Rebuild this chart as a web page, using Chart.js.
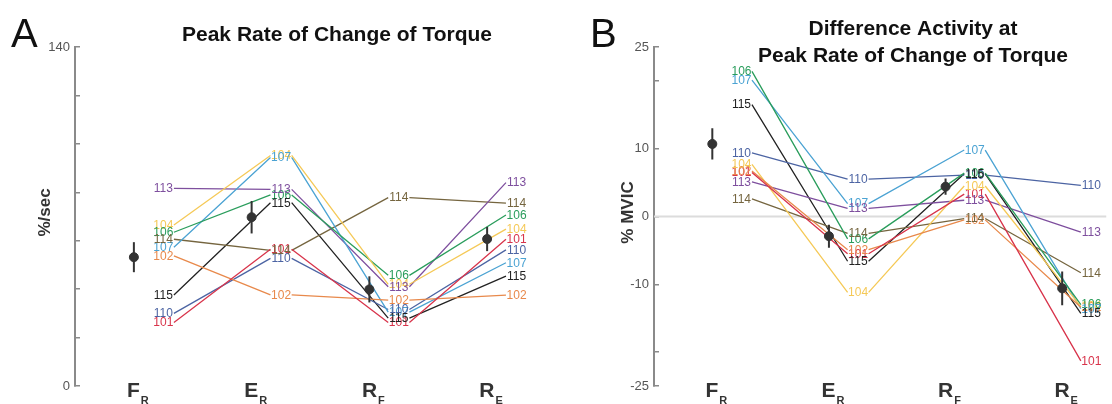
<!DOCTYPE html>
<html>
<head>
<meta charset="utf-8">
<script src="https://cdn.jsdelivr.net/npm/chart.js@4.4.0/dist/chart.umd.min.js"></script>
<style>
  html, body { margin: 0; padding: 0; background: #fff; }
  #wrap { position: relative; width: 1112px; height: 404px; overflow: hidden; }
  .panel { position: absolute; top: 0; width: 556px; height: 404px; }
</style>
</head>
<body>
<div id="wrap">
  <div class="panel" style="left:0"><canvas id="chartA" width="556" height="404"></canvas></div>
  <div class="panel" style="left:556px"><canvas id="chartB" width="556" height="404"></canvas></div>
</div>
<script>
// categories (main letter + subscript)
const categories = [['F', 'R'], ['E', 'R'], ['R', 'F'], ['R', 'E']];
const subjects = ['101', '102', '104', '106', '107', '110', '113', '114', '115'];
const subjectColors = ['#d8344b', '#e8894b', '#f5c957', '#2a9d5c', '#4ba3d3', '#4c64a3', '#7e4f9e', '#75653f', '#222222'];

// Panel A: peak rate of change of torque (%/sec), one value per subject
const rateFR = [26.2, 53.7, 66.5, 63.5, 57.3, 30.0, 81.6, 60.6, 37.6];
const rateER = [56.5, 37.6, 95.2, 78.9, 94.4, 52.7, 81.2, 56.0, 75.7];
const rateRF = [26.2, 35.5, 42.0, 45.7, 30.5, 31.6, 41.0, 77.8, 28.0];
const rateRE = [60.6, 37.5, 64.8, 70.6, 50.9, 56.2, 84.0, 75.5, 45.4];
const rateMean = [53.2, 69.7, 39.9, 60.7];
const rateErr = [6.2, 6.7, 5.4, 5.0];
const rateTicks = [0, 20, 40, 60, 80, 100, 120, 140];
const rateTickLabels = [0, 140];

// Panel B: difference activity (% MVIC)
const emgFR = [6.5, 6.7, 7.7, 21.4, 20.1, 9.4, 5.1, 2.6, 16.5];
const emgER = [-5.5, -4.9, -11.2, -3.3, 1.9, 5.5, 1.2, -2.5, -6.6];
const emgRF = [3.3, -0.5, 4.5, 6.4, 9.8, 6.1, 2.4, -0.3, 6.3];
const emgRE = [-21.3, -13.4, -13.3, -13.0, -13.6, 4.6, -2.3, -8.3, -14.3];
const emgMean = [10.7, -2.9, 4.4, -10.6];
const emgErr = [2.3, 1.7, 1.2, 2.5];
const emgTicks = [25, 20, 10, 0, -10, -20, -25];
const emgTickLabels = [25, 10, 0, -10, -25];

const LABEL_OFF = 0.25;  // subject labels sit right of the mean
const LABEL_HALF = 0.09; // lines stop at the label edges
const FONT = '"Liberation Sans", Arial, Helvetica, sans-serif';
const AXIS_GRAY = '#8a8a8a';

function buildDatasets(cols, mean, err, zeroLine, xMin, xMax) {
    const sets = [];
    // group means
    sets.push({
        data: mean.map((m, i) => ({ x: i + 1, y: m })),
        pointRadius: 4.5, pointBackgroundColor: '#333', pointBorderColor: '#333',
        showLine: false
    });
    // error bars
    mean.forEach((m, i) => {
        sets.push({
            data: [{ x: i + 1, y: m - err[i] }, { x: i + 1, y: m + err[i] }],
            borderColor: '#333', borderWidth: 2, pointRadius: 0, showLine: true
        });
    });
    // one line per subject, broken where the labels sit
    subjects.forEach((s, k) => {
        const pts = [];
        for (let i = 0; i < cols.length - 1; i++) {
            pts.push({ x: i + 1 + LABEL_OFF + LABEL_HALF, y: cols[i][k] });
            pts.push({ x: i + 2 + LABEL_OFF - LABEL_HALF, y: cols[i + 1][k] });
            pts.push({ x: i + 2, y: null });
        }
        sets.push({
            data: pts, borderColor: subjectColors[k], borderWidth: 1.3,
            pointRadius: 0, showLine: true, spanGaps: false
        });
    });
    if (zeroLine) {
        sets.push({
            data: [{ x: xMin, y: 0 }, { x: xMax, y: 0 }],
            borderColor: '#dcdcdc', borderWidth: 2, pointRadius: 0, showLine: true
        });
    }
    return sets;
}

function makeChart(id, o) {
    const textPlugin = {
        id: 'texts' + id,
        afterDatasetsDraw(chart) {
            const ctx = chart.ctx, xs = chart.scales.x, ys = chart.scales.y;
            ctx.save();
            ctx.font = '12px ' + FONT;
            ctx.textAlign = 'center';
            ctx.textBaseline = 'middle';
            subjects.forEach((s, k) => {
                ctx.fillStyle = subjectColors[k];
                o.cols.forEach((col, i) => {
                    ctx.fillText(s, xs.getPixelForValue(i + 1 + LABEL_OFF), ys.getPixelForValue(col[k]) + 0.5);
                });
            });
            ctx.restore();
        },
        afterDraw(chart) {
            const ctx = chart.ctx, xs = chart.scales.x, ys = chart.scales.y;
            const area = chart.chartArea;
            ctx.save();
            // panel letter
            ctx.fillStyle = '#111';
            ctx.textAlign = 'left';
            ctx.textBaseline = 'alphabetic';
            ctx.font = '40px ' + FONT;
            ctx.fillText(o.letter, o.letterX, 47);
            // title lines
            ctx.font = 'bold 21px ' + FONT;
            ctx.textAlign = 'center';
            o.title.forEach((t, i) => ctx.fillText(t, o.titleX, o.titleY + i * 27));
            // y axis title
            ctx.save();
            ctx.translate(o.yTitleX, (area.top + area.bottom) / 2 - 4);
            ctx.rotate(-Math.PI / 2);
            ctx.font = 'bold 17px ' + FONT;
            ctx.fillStyle = '#333';
            ctx.textBaseline = 'middle';
            ctx.fillText(o.yTitle, 0, 0);
            ctx.restore();
            // category labels with subscripts
            ctx.fillStyle = '#333';
            ctx.textAlign = 'left';
            categories.forEach((c, i) => {
                ctx.font = 'bold 21px ' + FONT;
                const w1 = ctx.measureText(c[0]).width;
                ctx.font = 'bold 11px ' + FONT;
                const w2 = ctx.measureText(c[1]).width;
                const x0 = xs.getPixelForValue(i + 1) + 4 - (w1 + 1 + w2) / 2;
                ctx.font = 'bold 21px ' + FONT;
                ctx.fillText(c[0], x0, 397);
                ctx.font = 'bold 11px ' + FONT;
                ctx.fillText(c[1], x0 + w1 + 1, 404);
            });
            ctx.restore();
        }
    };

    return new Chart(document.getElementById(id), {
        type: 'scatter',
        data: { datasets: buildDatasets(o.cols, o.mean, o.err, o.zeroLine, o.xMin, o.xMax) },
        options: {
            responsive: false,
            animation: false,
            devicePixelRatio: 1,
            layout: { padding: { top: 47, bottom: 18, left: 0, right: o.padRight } },
            plugins: { legend: { display: false }, tooltip: { enabled: false } },
            elements: { line: { tension: 0 } },
            scales: {
                x: { type: 'linear', display: false, min: o.xMin, max: o.xMax },
                y: {
                    min: o.yMin, max: o.yMax,
                    afterFit: s => { s.width = o.axisLeft; },
                    afterBuildTicks: s => { s.ticks = o.ticks.map(v => ({ value: v })); },
                    border: { display: true, color: AXIS_GRAY, width: 2 },
                    grid: { display: true, drawOnChartArea: false, drawTicks: true, tickLength: -5, color: AXIS_GRAY, tickColor: AXIS_GRAY, lineWidth: 1.5 },
                    ticks: {
                        color: '#555', font: { family: FONT, size: 13 }, padding: 10,
                        callback: v => (o.tickLabels.includes(v) ? String(v) : '')
                    }
                }
            }
        },
        plugins: [textPlugin]
    });
}

makeChart('chartA', {
    cols: [rateFR, rateER, rateRF, rateRE], mean: rateMean, err: rateErr,
    ticks: rateTicks, tickLabels: rateTickLabels, yMin: 0, yMax: 140,
    xMin: 0.5, xMax: 4.5, axisLeft: 75, padRight: 10, zeroLine: false,
    letter: 'A', letterX: 11, title: ['Peak Rate of Change of Torque'], titleX: 337, titleY: 41,
    yTitle: '%/sec', yTitleX: 45
});

makeChart('chartB', {
    cols: [emgFR, emgER, emgRF, emgRE], mean: emgMean, err: emgErr,
    ticks: emgTicks, tickLabels: emgTickLabels, yMin: -25, yMax: 25,
    xMin: 0.5, xMax: 4.38, axisLeft: 98, padRight: 0, zeroLine: true,
    letter: 'B', letterX: 34, title: ['Difference Activity at', 'Peak Rate of Change of Torque'], titleX: 357, titleY: 35,
    yTitle: '% MVIC', yTitleX: 72
});
</script>
</body>
</html>
